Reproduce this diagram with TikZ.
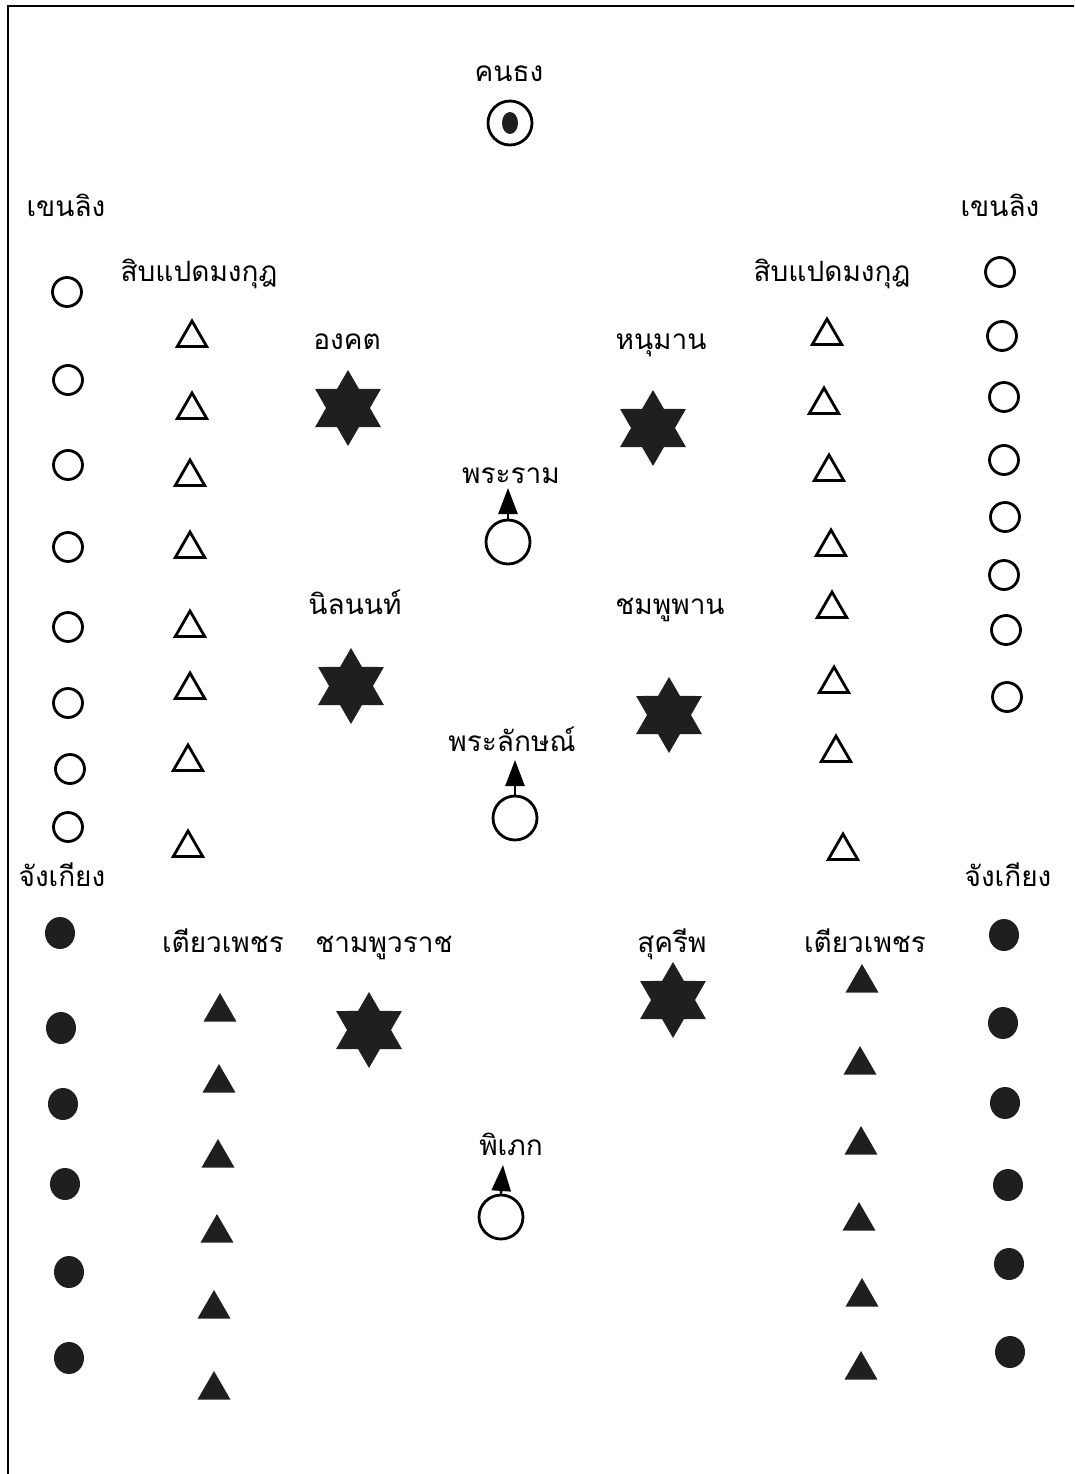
\documentclass[tikz,border=0pt]{standalone}
\usepackage{fontspec}
\newfontfamily\thaifont[Script=Thai]{Loma}
\usetikzlibrary{shapes.geometric,arrows.meta}
\begin{document}
\begin{tikzpicture}[x=1pt,y=-1pt,
  lbl/.style={font=\thaifont\fontsize{28}{30}\selectfont, inner sep=0pt, anchor=base},
  ocirc/.style={circle, draw, line width=2.8pt, minimum size=29pt, inner sep=0pt},
  fcirc/.style={ellipse, fill=black!88, minimum width=30pt, minimum height=32pt, inner sep=0pt},
  otri/.style={regular polygon, regular polygon sides=3, draw, line width=2.8pt, minimum size=34pt, inner sep=0pt},
  ftri/.style={regular polygon, regular polygon sides=3, fill=black!88, minimum size=38pt, inner sep=0pt},
  hexstar/.style={star, star points=6, star point ratio=1.73, fill=black!88, minimum size=76pt, inner sep=0pt},
  bigcirc/.style={circle, draw, line width=2.8pt, minimum size=44pt, inner sep=0pt},
  uparr/.style={line width=2.6pt, -{Triangle[length=26pt,width=19pt]}},
  frame/.style={line width=2pt}
]
\useasboundingbox (0,0) rectangle (1074,1474);
% frame
\coordinate (fbl) at (8,1474);
\coordinate (ftl) at (8,6);
\coordinate (ftr) at (1074,6);
\draw[frame] (fbl) -- (ftl) -- (ftr);

% flag bearer
\node[lbl] (knt) at (509,82) {คนธง};
\node[bigcirc] (kntc) at (510,123) {};
\node[ellipse, fill=black!88, minimum width=16pt, minimum height=22pt, inner sep=0pt] (kntd) at (510,123) {};

% group labels
\node[lbl] (kl1) at (66,216) {เขนลิง};
\node[lbl] (kl2) at (1000,216) {เขนลิง};
\node[lbl] (sp1) at (199,281) {สิบแปดมงกุฎ};
\node[lbl] (sp2) at (832,281) {สิบแปดมงกุฎ};
\node[lbl] (jk1) at (62,886) {จังเกียง};
\node[lbl] (jk2) at (1008,886) {จังเกียง};
\node[lbl] (tp1) at (223,952) {เตียวเพชร};
\node[lbl] (tp2) at (865,952) {เตียวเพชร};

% left open circles
\node[ocirc] (lc1) at (67,292) {};
\node[ocirc] (lc2) at (68,380) {};
\node[ocirc] (lc3) at (68,465) {};
\node[ocirc] (lc4) at (68,547) {};
\node[ocirc] (lc5) at (68,627) {};
\node[ocirc] (lc6) at (68,703) {};
\node[ocirc] (lc7) at (70,769) {};
\node[ocirc] (lc8) at (68,827) {};

% left open triangles
\node[otri] (lt1) at (192,338) {};
\node[otri] (lt2) at (192,410) {};
\node[otri] (lt3) at (190,477) {};
\node[otri] (lt4) at (190,549) {};
\node[otri] (lt5) at (190,628) {};
\node[otri] (lt6) at (190,690) {};
\node[otri] (lt7) at (188,762) {};
\node[otri] (lt8) at (188,848) {};

% right open circles
\node[ocirc] (rc1) at (1000,272) {};
\node[ocirc] (rc2) at (1002,336) {};
\node[ocirc] (rc3) at (1004,397) {};
\node[ocirc] (rc4) at (1004,460) {};
\node[ocirc] (rc5) at (1005,517) {};
\node[ocirc] (rc6) at (1004,575) {};
\node[ocirc] (rc7) at (1006,630) {};
\node[ocirc] (rc8) at (1007,697) {};

% right open triangles
\node[otri] (rt1) at (827,336) {};
\node[otri] (rt2) at (824,405) {};
\node[otri] (rt3) at (829,472) {};
\node[otri] (rt4) at (831,547) {};
\node[otri] (rt5) at (832,609) {};
\node[otri] (rt6) at (834,684) {};
\node[otri] (rt7) at (836,753) {};
\node[otri] (rt8) at (843,851) {};

% monkey generals
\node[lbl] (ongkhot) at (347,349) {องคต};
\node[hexstar] (s1) at (348,408) {};
\node[lbl] (hanuman) at (661,349) {หนุมาน};
\node[hexstar] (s2) at (653,428) {};
\node[lbl] (nilanon) at (355,614) {นิลนนท์};
\node[hexstar] (s3) at (351,686) {};
\node[lbl] (chomphu) at (670,614) {ชมพูพาน};
\node[hexstar] (s4) at (669,715) {};
\node[lbl] (champhu) at (384,952) {ชามพูวราช};
\node[hexstar] (s5) at (369,1030) {};
\node[lbl] (sukhrip) at (672,952) {สุครีพ};
\node[hexstar] (s6) at (673,1000) {};

% central figures
\node[lbl] (ram) at (511,483) {พระราม};
\node[bigcirc] (ramc) at (508,542) {};
\coordinate (ramtip) at (508,488);
\draw[uparr] (ramc.north) -- (ramtip);

\node[lbl] (lak) at (512,751) {พระลักษณ์};
\node[bigcirc] (lakc) at (515,818) {};
\coordinate (laktip) at (515,760);
\draw[uparr] (lakc.north) -- (laktip);

\node[lbl] (phi) at (511,1155) {พิเภก};
\node[bigcirc] (phic) at (501,1217) {};
\coordinate (phitip) at (503,1165);
\draw[uparr] (phic.north) -- (phitip);

% left filled circles
\node[fcirc] (lf1) at (60,933) {};
\node[fcirc] (lf2) at (61,1028) {};
\node[fcirc] (lf3) at (63,1104) {};
\node[fcirc] (lf4) at (65,1184) {};
\node[fcirc] (lf5) at (69,1272) {};
\node[fcirc] (lf6) at (69,1358) {};

% left filled triangles
\node[ftri] (lg1) at (220,1012) {};
\node[ftri] (lg2) at (219,1083) {};
\node[ftri] (lg3) at (218,1158) {};
\node[ftri] (lg4) at (217,1233) {};
\node[ftri] (lg5) at (214,1309) {};
\node[ftri] (lg6) at (214,1390) {};

% right filled triangles
\node[ftri] (rg1) at (862,983) {};
\node[ftri] (rg2) at (860,1065) {};
\node[ftri] (rg3) at (861,1145) {};
\node[ftri] (rg4) at (859,1221) {};
\node[ftri] (rg5) at (862,1297) {};
\node[ftri] (rg6) at (861,1370) {};

% right filled circles
\node[fcirc] (rf1) at (1004,935) {};
\node[fcirc] (rf2) at (1003,1023) {};
\node[fcirc] (rf3) at (1005,1103) {};
\node[fcirc] (rf4) at (1008,1185) {};
\node[fcirc] (rf5) at (1009,1264) {};
\node[fcirc] (rf6) at (1010,1352) {};
\end{tikzpicture}
\end{document}
